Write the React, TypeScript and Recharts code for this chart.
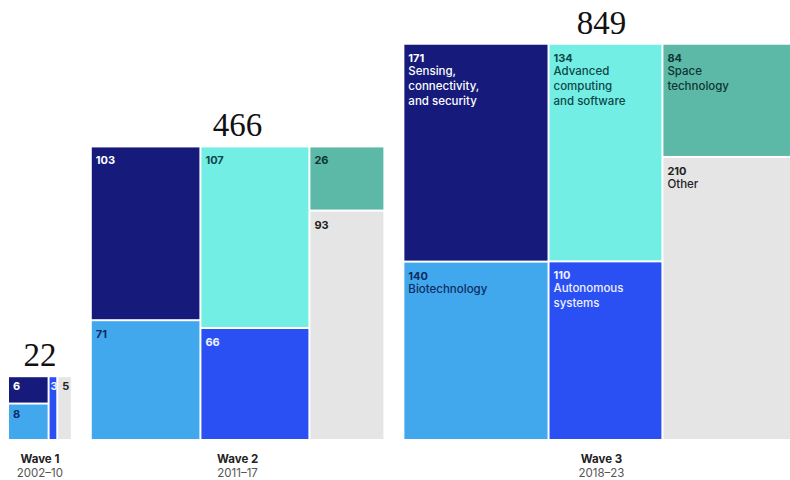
import React from "react";
import { ComposedChart, XAxis, YAxis, ReferenceArea } from "recharts";

// ---- data ----
const waves = ["Wave 1", "Wave 2", "Wave 3"];
const periods = ["2002–10", "2011–17", "2018–23"];
const sensing = [6, 103, 171];
const biotech = [8, 71, 140];
const computing = [0, 107, 134];
const autonomous = [3, 66, 110];
const space = [0, 26, 84];
const other = [5, 93, 210];

const nameLines: Record<string, string[]> = {
  sensing: ["Sensing,", "connectivity,", "and security"],
  biotech: ["Biotechnology"],
  computing: ["Advanced", "computing", "and software"],
  autonomous: ["Autonomous", "systems"],
  space: ["Space", "technology"],
  other: ["Other"],
};

// ---- style ----
const COLORS: Record<string, string> = {
  sensing: "#161b7b",
  biotech: "#41a8ee",
  computing: "#73eee5",
  autonomous: "#2a50f4",
  space: "#5cb8a7",
  other: "#e5e5e5",
};
const TEXT: Record<string, string> = {
  sensing: "#ffffff",
  biotech: "#0f2b62",
  computing: "#0e4746",
  autonomous: "#eef0ff",
  space: "#0c3631",
  other: "#222222",
};

const W = 790;
const H = 480;
const K = 13.6; // px per sqrt-unit
const BASE_PX = 440; // baseline y in chart px
const LEFT_PX = 8; // left offset of first wave
const GAP = 19 / K;
const SANS = "Inter, 'Noto Sans', sans-serif";

type Cell = {
  key: string;
  wave: number;
  value: number;
  x1: number;
  x2: number;
  y1: number;
  y2: number;
  side: number;
};

const columns: [string, number[], string, number[]][] = [
  ["sensing", sensing, "biotech", biotech],
  ["computing", computing, "autonomous", autonomous],
  ["space", space, "other", other],
];

const cells: Cell[] = [];
const waveBoxes: { wave: number; x1: number; x2: number; y1: number; y2: number; total: number }[] = [];
let cursor = 0;
waves.forEach((_, w) => {
  const total = columns.reduce((s, c) => s + c[1][w] + c[3][w], 0);
  const side = Math.sqrt(total);
  const left = cursor;
  let x = left;
  columns.forEach(([tk, tv, bk, bv]) => {
    const t = tv[w];
    const b = bv[w];
    const colTotal = t + b;
    if (colTotal === 0) return;
    const cw = (side * colTotal) / total;
    const bh = (side * b) / colTotal;
    if (t > 0) cells.push({ key: tk, wave: w, value: t, x1: x, x2: x + cw, y1: bh, y2: side, side });
    if (b > 0) cells.push({ key: bk, wave: w, value: b, x1: x, x2: x + cw, y1: 0, y2: bh, side });
    x += cw;
  });
  waveBoxes.push({ wave: w, x1: left, x2: left + side, y1: 0, y2: side, total });
  cursor = left + side + GAP;
});

const CellShape = (props: any) => {
  const { x, y, width, height, cell } = props;
  const c: Cell = cell;
  const small = c.side < 10;
  const pad = 5;
  const numY = y + (small ? 14 : 18);
  const showNames = c.wave === 2;
  return (
    <g>
      <rect x={x + 1} y={y + 1} width={Math.max(0, width - 2)} height={Math.max(0, height - 2)} fill={COLORS[c.key]} />
      <text
        x={x + pad + (small && width < 12 ? -3 : 0)}
        y={numY}
        fill={TEXT[c.key]}
        fontFamily={SANS}
        fontWeight={700}
        fontSize={11}
      >
        {c.value}
      </text>
      {showNames &&
        nameLines[c.key].map((ln, i) => (
          <text
            key={i}
            x={x + pad}
            y={numY + 13 + i * 15}
            fill={TEXT[c.key]}
            fontFamily={SANS}
            fontWeight={500}
            fontSize={11.5}
          >
            {ln}
          </text>
        ))}
    </g>
  );
};

const WaveShape = (props: any) => {
  const { x, y, width, height, box } = props;
  const cx = x + width / 2;
  return (
    <g>
      <text
        x={cx}
        y={y - 10}
        textAnchor="middle"
        fill="#111"
        fontFamily="'Liberation Serif', 'DejaVu Serif', serif"
        fontSize={33}
      >
        {box.total}
      </text>
      <text x={cx} y={y + height + 23} textAnchor="middle" fill="#222" fontFamily={SANS} fontWeight={700} fontSize={11.5}>
        {waves[box.wave]}
      </text>
      <text x={cx} y={y + height + 37} textAnchor="middle" fill="#555" fontFamily={SANS} fontSize={11.5}>
        {periods[box.wave]}
      </text>
    </g>
  );
};

export default function App() {
  const yMin = -(H - BASE_PX) / K;
  const yMax = BASE_PX / K;
  const xMin = -LEFT_PX / K;
  const xMax = (W - LEFT_PX) / K;
  return (
    <div style={{ position: "absolute", left: 0, top: 0, width: W, height: H, overflow: "hidden" }}>
      <ComposedChart width={W} height={H} data={cells} margin={{ top: 0, right: 0, bottom: 0, left: 0 }}>
        <XAxis type="number" dataKey="x1" domain={[xMin, xMax]} hide allowDataOverflow />
        <YAxis type="number" dataKey="y1" domain={[yMin, yMax]} hide allowDataOverflow />
        {cells.map((c, i) => (
          <ReferenceArea
            key={"c" + i}
            x1={c.x1}
            x2={c.x2}
            y1={c.y1}
            y2={c.y2}
            ifOverflow="visible"
            shape={(p: any) => <CellShape {...p} cell={c} />}
          />
        ))}
        {waveBoxes.map((b, i) => (
          <ReferenceArea
            key={"w" + i}
            x1={b.x1}
            x2={b.x2}
            y1={b.y1}
            y2={b.y2}
            ifOverflow="visible"
            shape={(p: any) => <WaveShape {...p} box={b} />}
          />
        ))}
      </ComposedChart>
    </div>
  );
}
